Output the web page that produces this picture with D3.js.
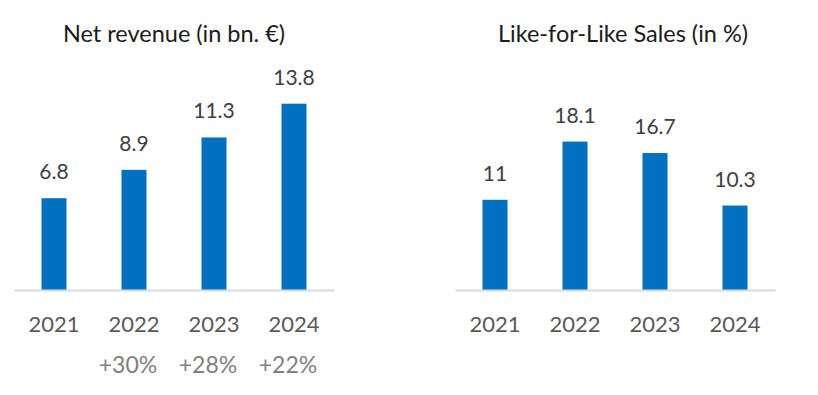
<!DOCTYPE html>
<html>
<head>
<meta charset="utf-8">
<script src="https://cdn.jsdelivr.net/npm/d3@7"></script>
<style>
  body { margin: 0; background: #fff; }
  svg { display: block; font-family: Lato, 'Open Sans', sans-serif; }
</style>
</head>
<body>
<svg width="818" height="395"></svg>
<script>
const years = ['2021', '2022', '2023', '2024']
const revenue = [6.8, 8.9, 11.3, 13.8]
const revenueGrowth = ['', '+30%', '+28%', '+22%']
const lflSales = [11, 18.1, 16.7, 10.3]

const svg = d3.select('svg')
const barColour = '#0070c0'

svg.append('rect').attr('width', 818).attr('height', 395).attr('fill', '#fff')

const drawPanel = (opts) => {
  const g = svg.append('g')

  const x = d3.scaleBand()
    .domain(years)
    .range(opts.xRange)
    .paddingInner(0.6875)
    .paddingOuter(0.34375)

  const y = d3.scaleLinear()
    .domain([0, opts.max])
    .range([290, opts.top])

  g.selectAll('rect.bar')
    .data(opts.values)
    .enter()
    .append('rect')
    .attr('class', 'bar')
    .attr('x', (d, i) => x(years[i]))
    .attr('y', d => y(d))
    .attr('width', x.bandwidth())
    .attr('height', d => y(0) - y(d))
    .attr('fill', barColour)

  g.selectAll('text.val')
    .data(opts.values)
    .enter()
    .append('text')
    .attr('class', 'val')
    .attr('x', (d, i) => x(years[i]) + x.bandwidth() / 2)
    .attr('y', d => y(d) - 19)
    .attr('text-anchor', 'middle')
    .attr('font-size', 21)
    .attr('fill', '#404040')
    .text(d => d)

  const axis = g.append('g')
    .attr('transform', 'translate(0,290)')
    .call(d3.axisBottom(x).tickSize(0).tickSizeOuter(0).tickPadding(26))

  axis.select('.domain')
    .attr('stroke', '#d9d9d9')
    .attr('stroke-width', 2)
  axis.selectAll('text')
    .attr('font-family', 'Lato, sans-serif')
    .attr('font-size', 22)
    .attr('fill', '#595959')

  g.append('text')
    .attr('x', opts.titleX)
    .attr('y', 42)
    .attr('text-anchor', 'middle')
    .attr('font-size', 23.5)
    .attr('fill', '#1a1a1a')
    .text(opts.title)

  return x
}

const xLeft = drawPanel({
  xRange: [14, 334],
  values: revenue,
  max: 15,
  top: 87.5,
  title: 'Net revenue (in bn. €)',
  titleX: 174
})

svg.append('g')
  .selectAll('text')
  .data(revenueGrowth)
  .enter()
  .append('text')
  .attr('x', (d, i) => xLeft(years[i]) + xLeft.bandwidth() / 2 - 6)
  .attr('y', 373)
  .attr('text-anchor', 'middle')
  .attr('font-size', 23)
  .attr('fill', '#7f7f7f')
  .text(d => d)

drawPanel({
  xRange: [455, 775],
  values: lflSales,
  max: 20,
  top: 126,
  title: 'Like-for-Like Sales (in %)',
  titleX: 623
})
</script>
</body>
</html>
